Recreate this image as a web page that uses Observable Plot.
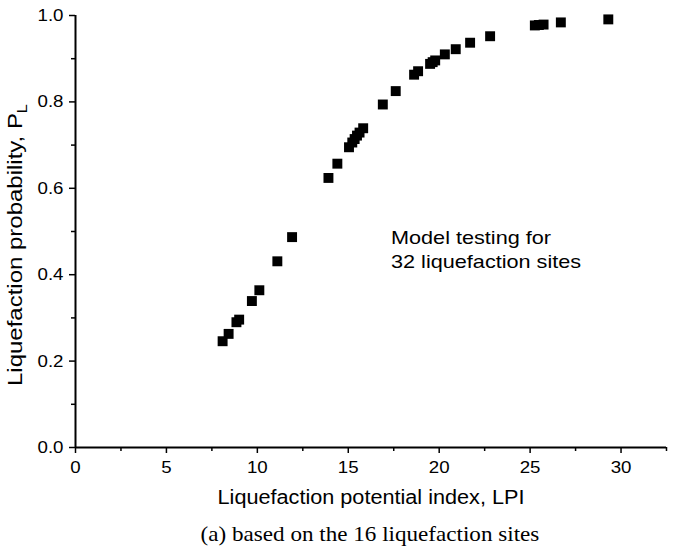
<!DOCTYPE html>
<html>
<head>
<meta charset="utf-8">
<script src="https://cdn.jsdelivr.net/npm/d3@7"></script>
<script src="https://cdn.jsdelivr.net/npm/@observablehq/plot@0.6"></script>
<style>
  html, body { margin: 0; padding: 0; background: #fff; }
  #chart { width: 674px; height: 515px; }
  .caption {
    font-family: "Liberation Serif", "Times New Roman", serif;
    font-size: 21px;
    text-align: center;
    width: 674px;
    padding-left: 66px;
    box-sizing: border-box;
    line-height: 38px;
    color: #000;
  }
  .caption span { display: inline-block; transform: scaleX(1.1); }
</style>
</head>
<body>
<div id="chart"></div>
<div class="caption"><span>(a) based on the 16 liquefaction sites</span></div>
<script>
// Liquefaction potential index (LPI) and the corresponding liquefaction probability P_L
const lpi = [
  8.09, 8.42, 8.85, 9.00, 9.70, 10.11, 11.10, 11.91,
  13.91, 14.40, 15.04, 15.22, 15.35, 15.48, 15.62, 15.82,
  16.90, 17.61, 18.62, 18.84, 19.50, 19.64, 19.78, 20.31,
  20.91, 21.70, 22.80, 25.26, 25.48, 25.74, 26.69, 29.30
];
const pl = [
  0.246, 0.263, 0.290, 0.296, 0.339, 0.364, 0.431, 0.487,
  0.624, 0.657, 0.695, 0.706, 0.714, 0.722, 0.729, 0.739,
  0.794, 0.825, 0.863, 0.871, 0.888, 0.892, 0.896, 0.910,
  0.922, 0.937, 0.952, 0.977, 0.978, 0.979, 0.984, 0.991
];

const xTicks = [0, 5, 10, 15, 20, 25, 30];
const xMinor = [2.5, 7.5, 12.5, 17.5, 22.5, 27.5, 32.5];
const yTicks = [0, 0.2, 0.4, 0.6, 0.8, 1.0];
const yMinor = [0.1, 0.3, 0.5, 0.7, 0.9];

const xLabel = "Liquefaction potential index, LPI";
const yLabel = "Liquefaction probability, P";
const yLabelSub = "L";
const noteLines = ["Model testing for", "32 liquefaction sites"];
const noteAt = {x: 17.35, y: 0.457};

const sites = lpi.map((x, i) => ({lpi: x, pl: pl[i]}));

const font = "'Liberation Sans', Arial, sans-serif";

const chart = Plot.plot({
  width: 674,
  height: 515,
  marginLeft: 75,
  marginRight: 8,
  marginTop: 15,
  marginBottom: 68,
  style: {fontFamily: font, fontSize: "17px", color: "#000", background: "#fff"},
  x: {domain: [0, 32.5]},
  y: {domain: [0, 1]},
  marks: [
    // minor ticks
    Plot.axisX(xMinor, {tickSize: 4, text: null, stroke: "#000", strokeWidth: 1.5, label: null}),
    Plot.axisY(yMinor, {tickSize: 4, text: null, stroke: "#000", strokeWidth: 1.5, label: null}),
    // major ticks with labels
    Plot.axisX(xTicks, {
      tickSize: 6, tickPadding: 7, stroke: "#000", strokeWidth: 1.5,
      fontSize: 17, fill: "#000", label: xLabel, labelAnchor: "center",
      labelArrow: "none", labelOffset: 56
    }),
    Plot.axisY(yTicks, {
      tickSize: 6, tickPadding: 6, stroke: "#000", strokeWidth: 1.5,
      fontSize: 17, fill: "#000", tickFormat: d3.format(".1f"), label: null
    }),
    // axis lines
    Plot.ruleY([0], {stroke: "#000", strokeWidth: 2}),
    Plot.ruleX([0], {stroke: "#000", strokeWidth: 2}),
    // sites
    Plot.dot(sites, {x: "lpi", y: "pl", symbol: "square", r: 5.6, fill: "#000", stroke: null}),
    // annotation, one text per line
    Plot.text([noteAt], {x: "x", y: "y", text: () => noteLines[0], textAnchor: "start", dy: -12, fontSize: 18.5, fill: "#000"}),
    Plot.text([noteAt], {x: "x", y: "y", text: () => noteLines[1], textAnchor: "start", dy: 12, fontSize: 18.5, fill: "#000"})
  ]
});

document.getElementById("chart").appendChild(chart);

const svg = d3.select(chart);
svg.selectAll("[aria-label='x-axis label'] text").attr("font-size", 19.5);

// y-axis title with a subscript
const yt = svg.append("text")
  .attr("class", "ytitle")
  .attr("transform", "translate(22,245) rotate(-90)")
  .attr("text-anchor", "middle")
  .attr("font-family", font)
  .attr("font-size", 20.5)
  .attr("fill", "#000");
yt.append("tspan").text(yLabel);
yt.append("tspan").attr("font-size", 14).attr("dy", 5).text(yLabelSub);

// widen glyph runs to the chart's typeface proportions
function widen(sel, k) {
  sel.each(function() {
    const w = this.getComputedTextLength();
    this.setAttribute("textLength", w * k);
    this.setAttribute("lengthAdjust", "spacingAndGlyphs");
  });
}
widen(svg.selectAll("[aria-label='x-axis tick label'] text, [aria-label='y-axis tick label'] text"), 1.1);
widen(svg.selectAll("[aria-label='x-axis label'] text"), 1.11);
widen(svg.selectAll("[aria-label='text'] text"), 1.17);
widen(yt, 1.17);
</script>
</body>
</html>
